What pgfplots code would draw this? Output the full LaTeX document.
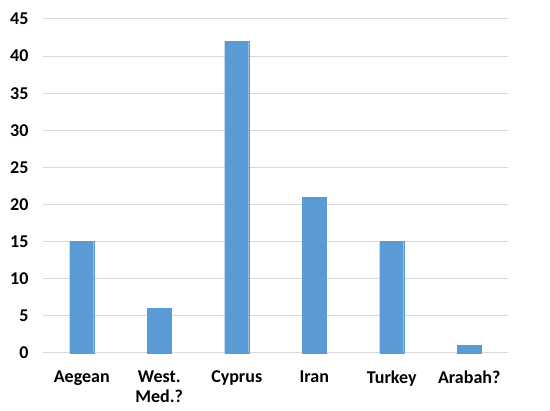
\documentclass[border=0pt]{standalone}
\usepackage{pgfplots}
\pgfplotsset{compat=1.18}
\usepackage{fontspec}
\setmainfont{Carlito}
\definecolor{barblue}{HTML}{5B9BD5}
\definecolor{gridgray}{HTML}{D9D9D9}
\begin{document}
\begin{tikzpicture}
\path[use as bounding box] (-43pt,-58pt) rectangle (507pt,353pt);
\begin{axis}[
  scale only axis,
  width=465pt, height=334pt,
  xmin=-0.5, xmax=5.5,
  ymin=0, ymax=45,
  ytick={0,5,...,45},
  xtick={0,1,2,3,4,5},
  xticklabels={Aegean,{West.\\Med.?},Cyprus,Iran,Turkey,Arabah?},
  xticklabel style={align=center, font=\fontsize{18}{20}\selectfont\bfseries, yshift=-14pt},
  yticklabel style={font=\fontsize{18}{20}\selectfont\bfseries, xshift=-11pt},
  /pgf/number format/assume math mode=true,
  axis line style={draw=none},
  major tick length=0pt,
  ymajorgrids,
  grid style={gridgray, line width=1pt},
  clip=false,
]
\addplot[ybar, bar width=24pt, fill=barblue, draw=barblue] coordinates {
  (0,15) (1,6) (2,42) (3,21) (4,15) (5,1)
};
\end{axis}
\end{tikzpicture}
\end{document}
